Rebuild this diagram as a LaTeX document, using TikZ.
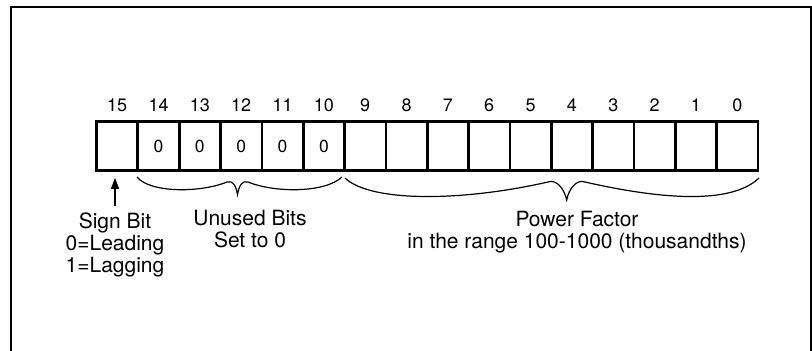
\documentclass[tikz,border=0pt]{standalone}
\usepackage{fontspec}
\setmainfont{TeX Gyre Heros}
\usepackage{tikz}
\usetikzlibrary{arrows.meta}
\definecolor{ink}{RGB}{0,0,0}

\begin{document}
\begin{tikzpicture}[x=1pt,y=-1pt,
    bitcell/.style={draw=ink,line width=2.7pt,minimum width=41.34pt,
      minimum height=48.8pt,inner sep=0pt,outer sep=0pt,
      font=\fontsize{17.5}{20}\selectfont},
    bitnum/.style={inner sep=0pt,font=\fontsize{18}{20}\selectfont},
    fieldlabel/.style={align=center,inner sep=0pt,
      font=\fontsize{21}{22}\selectfont},
    fieldbrace/.style={draw=ink,line width=1.2pt}]
  \useasboundingbox (0,0) rectangle (812,351);
  \draw[ink,line width=2pt] (11,351) |- (811,7.3) -- (811,351);
  \node[bitcell] (b15) at ({96.5+0.5*41.34},146) {};
  \foreach \b in {10,...,14}
    \node[bitcell] (b\b) at ({96.5+(15.5-\b)*41.34},146) {0};
  \foreach \b in {0,...,9}
    \node[bitcell] (b\b) at ({96.5+(15.5-\b)*41.34},146) {};
  \foreach \b in {0,...,15}
    \node[bitnum] (n\b) at ({96.5+(15.5-\b)*41.34},105) {\b};
  \draw[fieldbrace] (137,177) .. controls (150,193) and (200,193) .. (227,182)
    .. controls (233,180) and (236,186) .. (237.5,194.5)
    .. controls (239,186) and (242,180) .. (248,182)
    .. controls (275,193) and (325,193) .. (342,177);
  \draw[fieldbrace] (345,178) .. controls (370,202) and (460,202) .. (548,182)
    .. controls (556,179) and (564,188) .. (566.7,200)
    .. controls (569,188) and (577,179) .. (585,182)
    .. controls (673,202) and (734,202) .. (759,178);
  \node[fieldlabel] (sign) at (115,245) {Sign Bit\\0=Leading\\1=Lagging};
  \node[fieldlabel] (unused) at (250,229) {Unused Bits\\Set to 0};
  \node[fieldlabel] (power) at (577,232)
    {Power Factor\\in the range 100-1000 (thousandths)};
  \draw[-{Triangle[length=11pt,width=8pt]},line width=1.5pt,ink,
    shorten >=7.5pt] ([yshift=6.5pt]sign.north) -- (sign.north |- b15.south);
\end{tikzpicture}
\end{document}
